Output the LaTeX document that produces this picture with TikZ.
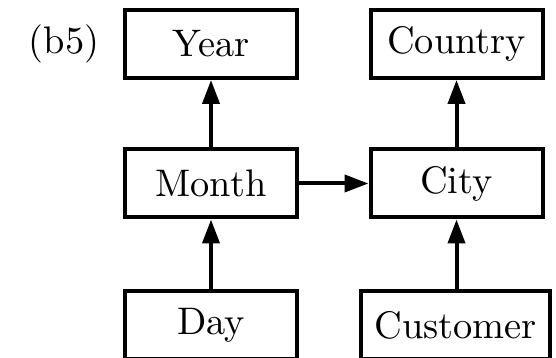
\documentclass[tikz,border=0pt]{standalone}
\usetikzlibrary{arrows.meta}
% labels are set at 10pt and enlarged, keeping the 10pt letter shapes
\newcommand{\bigtext}[1]{\scalebox{3.84}{#1}}
\begin{document}
\begin{tikzpicture}[x=1pt,y=1pt,
  box/.style={draw, line width=4pt, minimum width=172pt, minimum height=68pt,
    inner sep=0pt},
  link/.style={line width=4pt, -{Triangle[length=24pt,width=17pt]}}]
\useasboundingbox (0,0) rectangle (556,358);
\node (lbl) at (64,314) {\bigtext{(b5)}};
\node[box] (year) at (211,314) {\bigtext{Year}};
\node[box] (country) at (456.5,314) {\bigtext{Country}};
\node[box] (month) at (211,174.5) {\bigtext{Month}};
\node[box] (city) at (456.5,174.5) {\bigtext{City}};
\node[box] (day) at (211,33) {\bigtext{Day}};
\node[box, minimum width=189pt] (customer) at (455.5,33) {\bigtext{Customer}};
\draw[link] (month) -- (year);
\draw[link] (city) -- (country);
\draw[link] (day) -- (month);
\draw[link] (customer.north -| city) -- (city);
\draw[link] (month) -- (city);
\end{tikzpicture}
\end{document}
